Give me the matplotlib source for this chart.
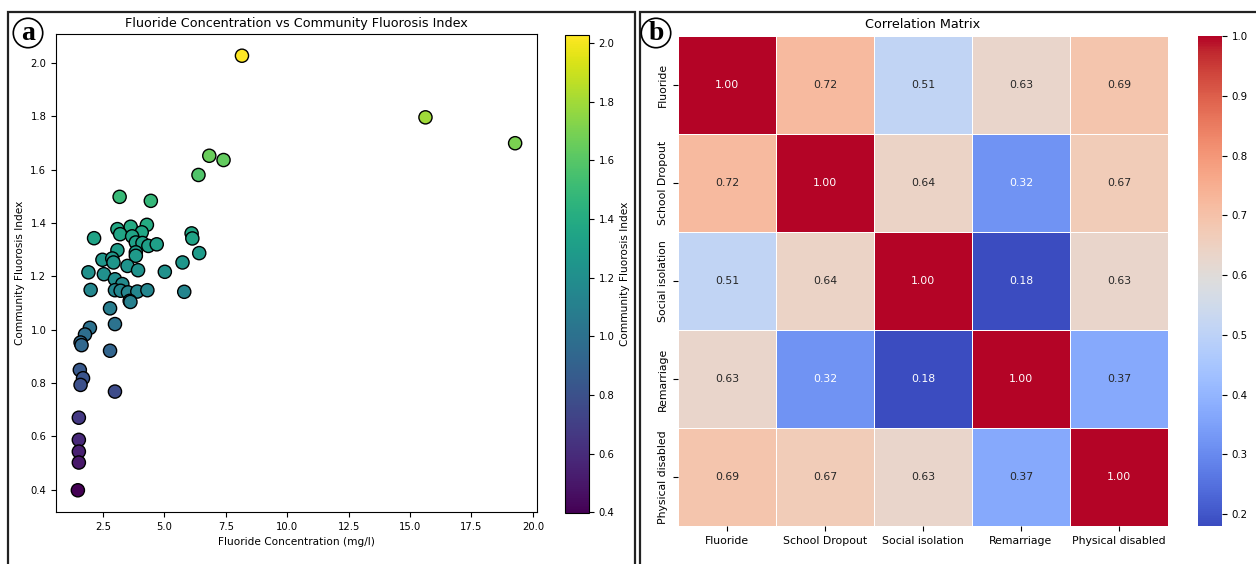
import numpy as np
import matplotlib
matplotlib.use("Agg")
import matplotlib.pyplot as plt
import seaborn as sns
from matplotlib.patches import Rectangle

# scatter data
fluoride = [8.16, 15.63, 19.28, 6.83, 7.41, 6.39, 3.18, 4.45, 4.29, 3.63,
            3.09, 3.20, 4.08, 3.69, 2.14, 6.11, 6.14, 3.84, 4.11, 4.35,
            4.69, 3.09, 3.84, 3.84, 6.42, 2.48, 2.88, 2.93, 5.74, 3.50,
            3.93, 5.02, 1.91, 2.54, 2.99, 3.29, 2.00, 2.99, 3.22, 3.52,
            3.90, 4.31, 5.81, 3.59, 3.62, 2.79, 2.99, 1.97, 1.77, 1.59,
            1.63, 2.79, 1.56, 1.69, 1.59, 2.99, 1.52, 1.52, 1.52, 1.52,
            1.48]
cfi = [2.027, 1.796, 1.699, 1.652, 1.636, 1.580, 1.498, 1.483, 1.393, 1.386,
       1.377, 1.358, 1.365, 1.350, 1.343, 1.361, 1.342, 1.327, 1.325, 1.314,
       1.320, 1.298, 1.290, 1.277, 1.287, 1.262, 1.267, 1.252, 1.252, 1.239,
       1.223, 1.217, 1.215, 1.208, 1.189, 1.171, 1.149, 1.148, 1.146, 1.140,
       1.143, 1.148, 1.142, 1.108, 1.104, 1.080, 1.021, 1.007, 0.982, 0.952,
       0.942, 0.921, 0.849, 0.818, 0.793, 0.768, 0.670, 0.587, 0.543, 0.502,
       0.398]

# correlation matrix, panel (b)
labels = ["Fluoride", "School Dropout", "Social isolation", "Remarriage", "Physical disabled"]
corr = [[1.00, 0.72, 0.51, 0.63, 0.69],
        [0.72, 1.00, 0.64, 0.32, 0.67],
        [0.51, 0.64, 1.00, 0.18, 0.63],
        [0.63, 0.32, 0.18, 1.00, 0.37],
        [0.69, 0.67, 0.63, 0.37, 1.00]]

W, H = 1256, 564
fig = plt.figure(figsize=(W / 100, H / 100), dpi=100)


def box(l, t, r, b):
    # pixel box -> figure fraction [left, bottom, width, height]
    return [l / W, 1 - b / H, (r - l) / W, (b - t) / H]


# panel frames
fig.add_artist(Rectangle((8 / W, -0.05), (635 - 8) / W, 1.05 - 12 / H,
                         transform=fig.transFigure, fill=False, lw=1.6, ec="#222222"))
fig.add_artist(Rectangle((640 / W, -0.05), 0.6, 1.05 - 12 / H,
                         transform=fig.transFigure, fill=False, lw=1.6, ec="#222222"))

# (a) scatter
ax1 = fig.add_axes(box(56, 34, 537, 512))
cax1 = fig.add_axes(box(565, 35, 589, 513))
sc = ax1.scatter(fluoride, cfi, c=cfi, cmap="viridis", s=90, edgecolors="black", linewidths=1.0)
ax1.set_title("Fluoride Concentration vs Community Fluorosis Index", fontsize=9.2, pad=5)
ax1.set_xlabel("Fluoride Concentration (mg/l)", fontsize=7.6)
ax1.set_ylabel("Community Fluorosis Index", fontsize=7.6)
ax1.tick_params(labelsize=7.2)
cb1 = fig.colorbar(sc, cax=cax1)
cb1.set_label("Community Fluorosis Index", fontsize=7.6)
cb1.ax.tick_params(labelsize=7.2)

# (b) heatmap
ax2 = fig.add_axes(box(678, 36, 1168, 526))
cax2 = fig.add_axes(box(1198, 36, 1222, 526))
sns.heatmap(np.array(corr), ax=ax2, cbar_ax=cax2, cmap="coolwarm", annot=True, fmt=".2f",
            linewidths=0.5, linecolor="white", xticklabels=labels, yticklabels=labels,
            annot_kws={"fontsize": 7.8})
for t in ax2.texts:
    v = float(t.get_text())
    t.set_color("white" if (v < 0.35 or v > 0.9) else "#262626")
ax2.set_title("Correlation Matrix", fontsize=9.2, pad=6)
ax2.tick_params(labelsize=7.8)
plt.setp(ax2.get_yticklabels(), rotation=90, va="center")
plt.setp(ax2.get_xticklabels(), rotation=0)
cax2.tick_params(labelsize=7.4)

# circled panel letters
for x, letter in [(28, "a"), (656, "b")]:
    fig.text(x / W, 1 - 33 / H, letter, fontsize=20, fontweight="bold", family="Liberation Serif",
             ha="center", va="center",
             bbox=dict(boxstyle="circle,pad=0.08", fc="white", ec="black", lw=1.2))

fig.savefig("out.png", dpi=100)
